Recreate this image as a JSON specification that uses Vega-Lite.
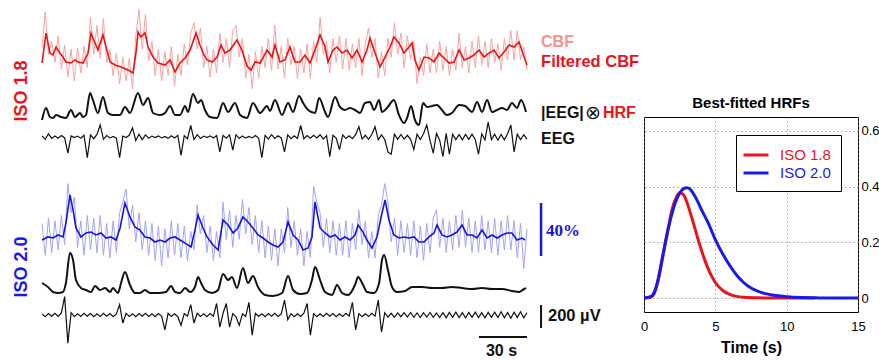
{
"$schema": "https://vega.github.io/schema/vega-lite/v6.json",
"padding": 0,
"autosize": {"type": "pad"},
"bounds": "flush",
"spacing": 24,
"config": {"font": "Liberation Sans", "view": {"stroke": null}},
"datasets": {
"fast": [
{"t":0,"cbf18":13,"eeg18":10,"cbf20":14,"eeg20":10},
{"t":2,"cbf18":40,"eeg18":-20,"cbf20":-10,"eeg20":-15},
{"t":4,"cbf18":8,"eeg18":28,"cbf20":18,"eeg20":12},
{"t":6,"cbf18":18,"eeg18":-12,"cbf20":-8,"eeg20":-10},
{"t":8,"cbf18":2,"eeg18":8,"cbf20":16,"eeg20":15},
{"t":10,"cbf18":22,"eeg18":-10,"cbf20":-6,"eeg20":-12},
{"t":12,"cbf18":-3,"eeg18":12,"cbf20":20,"eeg20":18},
{"t":14,"cbf18":15,"eeg18":-8,"cbf20":-2,"eeg20":160},
{"t":16,"cbf18":-9,"eeg18":-140,"cbf20":44,"eeg20":-245},
{"t":18,"cbf18":12,"eeg18":10,"cbf20":22,"eeg20":20},
{"t":20,"cbf18":-12,"eeg18":-5,"cbf20":34,"eeg20":-15},
{"t":22,"cbf18":13,"eeg18":8,"cbf20":-4,"eeg20":10},
{"t":24,"cbf18":-6,"eeg18":-10,"cbf20":16,"eeg20":-12},
{"t":26,"cbf18":14,"eeg18":15,"cbf20":-10,"eeg20":15},
{"t":28,"cbf18":-2,"eeg18":-180,"cbf20":20,"eeg20":-10},
{"t":30,"cbf18":36,"eeg18":18,"cbf20":-6,"eeg20":12},
{"t":32,"cbf18":8,"eeg18":-15,"cbf20":18,"eeg20":-15},
{"t":34,"cbf18":30,"eeg18":22,"cbf20":-8,"eeg20":10},
{"t":36,"cbf18":5,"eeg18":105,"cbf20":20,"eeg20":-12},
{"t":38,"cbf18":35,"eeg18":-20,"cbf20":-10,"eeg20":15},
{"t":40,"cbf18":2,"eeg18":12,"cbf20":14,"eeg20":-10},
{"t":42,"cbf18":12,"eeg18":-8,"cbf20":-12,"eeg20":12},
{"t":44,"cbf18":-8,"eeg18":5,"cbf20":16,"eeg20":-15},
{"t":46,"cbf18":9,"eeg18":-10,"cbf20":-8,"eeg20":10},
{"t":48,"cbf18":-14,"eeg18":-180,"cbf20":22,"eeg20":90},
{"t":50,"cbf18":6,"eeg18":8,"cbf20":30,"eeg20":-70},
{"t":52,"cbf18":-12,"eeg18":-5,"cbf20":40,"eeg20":15},
{"t":54,"cbf18":5,"eeg18":15,"cbf20":10,"eeg20":-12},
{"t":56,"cbf18":-18,"eeg18":80,"cbf20":28,"eeg20":10},
{"t":58,"cbf18":22,"eeg18":-30,"cbf20":0,"eeg20":-15},
{"t":60,"cbf18":42,"eeg18":25,"cbf20":22,"eeg20":12},
{"t":62,"cbf18":12,"eeg18":-22,"cbf20":-6,"eeg20":-10},
{"t":64,"cbf18":38,"eeg18":18,"cbf20":16,"eeg20":15},
{"t":66,"cbf18":3,"eeg18":-10,"cbf20":-10,"eeg20":-12},
{"t":68,"cbf18":18,"eeg18":8,"cbf20":14,"eeg20":10},
{"t":70,"cbf18":-8,"eeg18":-5,"cbf20":-14,"eeg20":-15},
{"t":72,"cbf18":12,"eeg18":10,"cbf20":12,"eeg20":12},
{"t":74,"cbf18":-12,"eeg18":-8,"cbf20":-18,"eeg20":-10},
{"t":76,"cbf18":10,"eeg18":5,"cbf20":10,"eeg20":-130},
{"t":78,"cbf18":-8,"eeg18":-12,"cbf20":-12,"eeg20":15},
{"t":80,"cbf18":14,"eeg18":10,"cbf20":16,"eeg20":-12},
{"t":82,"cbf18":-16,"eeg18":-8,"cbf20":-10,"eeg20":10},
{"t":84,"cbf18":8,"eeg18":15,"cbf20":14,"eeg20":-15},
{"t":86,"cbf18":-8,"eeg18":-160,"cbf20":-12,"eeg20":-90},
{"t":88,"cbf18":16,"eeg18":12,"cbf20":12,"eeg20":12},
{"t":90,"cbf18":0,"eeg18":-15,"cbf20":-14,"eeg20":-10},
{"t":92,"cbf18":24,"eeg18":100,"cbf20":8,"eeg20":90},
{"t":94,"cbf18":32,"eeg18":-22,"cbf20":-6,"eeg20":-70},
{"t":96,"cbf18":12,"eeg18":20,"cbf20":28,"eeg20":15},
{"t":98,"cbf18":28,"eeg18":-12,"cbf20":6,"eeg20":-12},
{"t":100,"cbf18":-2,"eeg18":8,"cbf20":20,"eeg20":10},
{"t":102,"cbf18":14,"eeg18":-5,"cbf20":-8,"eeg20":-15},
{"t":104,"cbf18":-9,"eeg18":10,"cbf20":12,"eeg20":12},
{"t":106,"cbf18":12,"eeg18":-8,"cbf20":-14,"eeg20":-10},
{"t":108,"cbf18":-6,"eeg18":12,"cbf20":8,"eeg20":100},
{"t":110,"cbf18":24,"eeg18":-130,"cbf20":-12,"eeg20":-105},
{"t":112,"cbf18":2,"eeg18":15,"cbf20":30,"eeg20":15},
{"t":114,"cbf18":20,"eeg18":-10,"cbf20":2,"eeg20":100},
{"t":116,"cbf18":-2,"eeg18":18,"cbf20":24,"eeg20":-105},
{"t":118,"cbf18":26,"eeg18":-115,"cbf20":-4,"eeg20":12},
{"t":120,"cbf18":30,"eeg18":20,"cbf20":20,"eeg20":-15},
{"t":122,"cbf18":6,"eeg18":-12,"cbf20":2,"eeg20":-90},
{"t":124,"cbf18":20,"eeg18":8,"cbf20":32,"eeg20":10},
{"t":126,"cbf18":-10,"eeg18":-10,"cbf20":6,"eeg20":-12},
{"t":128,"cbf18":8,"eeg18":5,"cbf20":26,"eeg20":110},
{"t":130,"cbf18":-18,"eeg18":-8,"cbf20":-2,"eeg20":-175},
{"t":132,"cbf18":10,"eeg18":12,"cbf20":20,"eeg20":15},
{"t":134,"cbf18":-10,"eeg18":-10,"cbf20":-8,"eeg20":-12},
{"t":136,"cbf18":14,"eeg18":-180,"cbf20":16,"eeg20":10},
{"t":138,"cbf18":-2,"eeg18":15,"cbf20":-12,"eeg20":-15},
{"t":140,"cbf18":20,"eeg18":-18,"cbf20":12,"eeg20":12},
{"t":142,"cbf18":-4,"eeg18":20,"cbf20":-14,"eeg20":-10},
{"t":144,"cbf18":30,"eeg18":-12,"cbf20":10,"eeg20":15},
{"t":146,"cbf18":-3,"eeg18":10,"cbf20":-18,"eeg20":-12},
{"t":148,"cbf18":14,"eeg18":-8,"cbf20":10,"eeg20":10},
{"t":150,"cbf18":-10,"eeg18":-130,"cbf20":-8,"eeg20":130},
{"t":152,"cbf18":20,"eeg18":18,"cbf20":26,"eeg20":-40},
{"t":154,"cbf18":0,"eeg18":-15,"cbf20":-4,"eeg20":12},
{"t":156,"cbf18":14,"eeg18":10,"cbf20":16,"eeg20":-15},
{"t":158,"cbf18":-10,"eeg18":-12,"cbf20":-10,"eeg20":10},
{"t":160,"cbf18":12,"eeg18":100,"cbf20":10,"eeg20":-12},
{"t":162,"cbf18":-6,"eeg18":-15,"cbf20":-18,"eeg20":15},
{"t":164,"cbf18":16,"eeg18":12,"cbf20":8,"eeg20":100},
{"t":166,"cbf18":-10,"eeg18":-10,"cbf20":-12,"eeg20":-175},
{"t":168,"cbf18":18,"eeg18":15,"cbf20":42,"eeg20":12},
{"t":170,"cbf18":2,"eeg18":-8,"cbf20":30,"eeg20":-15},
{"t":172,"cbf18":36,"eeg18":20,"cbf20":22,"eeg20":10},
{"t":174,"cbf18":8,"eeg18":-18,"cbf20":-4,"eeg20":-12},
{"t":176,"cbf18":18,"eeg18":12,"cbf20":18,"eeg20":15},
{"t":178,"cbf18":-6,"eeg18":-170,"cbf20":-8,"eeg20":-10},
{"t":180,"cbf18":20,"eeg18":15,"cbf20":16,"eeg20":12},
{"t":182,"cbf18":2,"eeg18":-10,"cbf20":-10,"eeg20":-15},
{"t":184,"cbf18":22,"eeg18":-110,"cbf20":14,"eeg20":10},
{"t":186,"cbf18":-3,"eeg18":18,"cbf20":-10,"eeg20":-12},
{"t":188,"cbf18":20,"eeg18":-12,"cbf20":16,"eeg20":15},
{"t":190,"cbf18":-4,"eeg18":10,"cbf20":-12,"eeg20":-10},
{"t":192,"cbf18":16,"eeg18":-15,"cbf20":14,"eeg20":110},
{"t":194,"cbf18":-2,"eeg18":20,"cbf20":-6,"eeg20":-130},
{"t":196,"cbf18":20,"eeg18":90,"cbf20":24,"eeg20":12},
{"t":198,"cbf18":-8,"eeg18":-18,"cbf20":-2,"eeg20":-15},
{"t":200,"cbf18":16,"eeg18":15,"cbf20":16,"eeg20":10},
{"t":202,"cbf18":28,"eeg18":-20,"cbf20":-12,"eeg20":-12},
{"t":204,"cbf18":6,"eeg18":22,"cbf20":8,"eeg20":15},
{"t":206,"cbf18":20,"eeg18":90,"cbf20":-12,"eeg20":-10},
{"t":208,"cbf18":-10,"eeg18":-25,"cbf20":20,"eeg20":130},
{"t":210,"cbf18":10,"eeg18":18,"cbf20":28,"eeg20":-150},
{"t":212,"cbf18":-8,"eeg18":-22,"cbf20":44,"eeg20":20},
{"t":214,"cbf18":20,"eeg18":-130,"cbf20":30,"eeg20":-18},
{"t":216,"cbf18":6,"eeg18":-150,"cbf20":0,"eeg20":15},
{"t":218,"cbf18":32,"eeg18":25,"cbf20":18,"eeg20":-20},
{"t":220,"cbf18":8,"eeg18":-20,"cbf20":-10,"eeg20":18},
{"t":222,"cbf18":24,"eeg18":22,"cbf20":16,"eeg20":-15},
{"t":224,"cbf18":-2,"eeg18":-18,"cbf20":-8,"eeg20":20},
{"t":226,"cbf18":22,"eeg18":15,"cbf20":14,"eeg20":-18},
{"t":228,"cbf18":4,"eeg18":-20,"cbf20":-10,"eeg20":22},
{"t":230,"cbf18":18,"eeg18":-110,"cbf20":16,"eeg20":-20},
{"t":232,"cbf18":-14,"eeg18":25,"cbf20":-12,"eeg20":18},
{"t":234,"cbf18":6,"eeg18":-22,"cbf20":12,"eeg20":-22},
{"t":236,"cbf18":-8,"eeg18":28,"cbf20":-14,"eeg20":20},
{"t":238,"cbf18":16,"eeg18":105,"cbf20":14,"eeg20":-18},
{"t":240,"cbf18":-6,"eeg18":-30,"cbf20":-8,"eeg20":22},
{"t":242,"cbf18":12,"eeg18":-140,"cbf20":18,"eeg20":-20},
{"t":244,"cbf18":-6,"eeg18":30,"cbf20":24,"eeg20":18},
{"t":246,"cbf18":18,"eeg18":-28,"cbf20":-4,"eeg20":-22},
{"t":248,"cbf18":-4,"eeg18":-170,"cbf20":18,"eeg20":20},
{"t":250,"cbf18":14,"eeg18":32,"cbf20":-8,"eeg20":-25},
{"t":252,"cbf18":-8,"eeg18":-150,"cbf20":16,"eeg20":22},
{"t":254,"cbf18":12,"eeg18":25,"cbf20":-6,"eeg20":-20},
{"t":256,"cbf18":-4,"eeg18":-22,"cbf20":20,"eeg20":25},
{"t":258,"cbf18":24,"eeg18":20,"cbf20":-4,"eeg20":-22},
{"t":260,"cbf18":-2,"eeg18":-25,"cbf20":24,"eeg20":20},
{"t":262,"cbf18":14,"eeg18":22,"cbf20":-4,"eeg20":-25},
{"t":264,"cbf18":-6,"eeg18":-20,"cbf20":18,"eeg20":22},
{"t":266,"cbf18":18,"eeg18":25,"cbf20":-8,"eeg20":-20},
{"t":268,"cbf18":-2,"eeg18":-22,"cbf20":16,"eeg20":25},
{"t":270,"cbf18":22,"eeg18":-150,"cbf20":-8,"eeg20":-22},
{"t":272,"cbf18":0,"eeg18":28,"cbf20":20,"eeg20":20},
{"t":274,"cbf18":18,"eeg18":-25,"cbf20":-6,"eeg20":-25},
{"t":276,"cbf18":-2,"eeg18":130,"cbf20":16,"eeg20":22},
{"t":278,"cbf18":20,"eeg18":-22,"cbf20":-8,"eeg20":-20},
{"t":280,"cbf18":2,"eeg18":25,"cbf20":18,"eeg20":25},
{"t":282,"cbf18":16,"eeg18":-28,"cbf20":-10,"eeg20":-22},
{"t":284,"cbf18":-4,"eeg18":22,"cbf20":16,"eeg20":28},
{"t":286,"cbf18":20,"eeg18":-25,"cbf20":-6,"eeg20":-25},
{"t":288,"cbf18":4,"eeg18":28,"cbf20":20,"eeg20":22},
{"t":290,"cbf18":26,"eeg18":105,"cbf20":-6,"eeg20":-28},
{"t":292,"cbf18":4,"eeg18":-130,"cbf20":16,"eeg20":25},
{"t":294,"cbf18":26,"eeg18":25,"cbf20":-12,"eeg20":-22},
{"t":296,"cbf18":4,"eeg18":-22,"cbf20":14,"eeg20":28},
{"t":298,"cbf18":14,"eeg18":20,"cbf20":-20,"eeg20":-25},
{"t":300,"cbf18":-4,"eeg18":-18,"cbf20":10,"eeg20":20}
],
"f18": [
{"t":0,"v":1.5},{"t":2.5,"v":24},{"t":4.9,"v":9},{"t":6.8,"v":7.5},{"t":8.7,"v":13.6},{"t":11.1,"v":9},{"t":13,"v":6},{"t":14.8,"v":2.3},{"t":17.9,"v":1.5},{"t":20.4,"v":3.8},{"t":22.3,"v":2.3},{"t":25.4,"v":1.5},{"t":28.5,"v":9},{"t":30.3,"v":24},{"t":32.8,"v":16.6},{"t":34.6,"v":11.3},{"t":37.7,"v":22.7},{"t":39.6,"v":13.6},{"t":42.1,"v":2.3},{"t":45.2,"v":0},{"t":48.9,"v":-1.5},{"t":53.2,"v":-3.8},{"t":56.3,"v":-6},{"t":58.1,"v":9},{"t":59.4,"v":24.9},{"t":61.2,"v":21.1},{"t":63.7,"v":24.2},{"t":65.6,"v":13.6},{"t":68.7,"v":6},{"t":71.8,"v":1.5},{"t":76.1,"v":0},{"t":79.2,"v":3.8},{"t":82.3,"v":-5.3},{"t":85.4,"v":1.5},{"t":88.5,"v":5.3},{"t":91.6,"v":11.3},{"t":95.3,"v":24.2},{"t":97.7,"v":15.1},{"t":100.2,"v":7.5},{"t":102.1,"v":3.8},{"t":105.2,"v":2.3},{"t":108.3,"v":6},{"t":110.7,"v":15.1},{"t":113.2,"v":9},{"t":116.3,"v":11.3},{"t":120.6,"v":18.9},{"t":123.7,"v":11.3},{"t":126.8,"v":-0.8},{"t":129.3,"v":-3.8},{"t":131.8,"v":2.3},{"t":134.9,"v":1.5},{"t":139.2,"v":11.3},{"t":142.3,"v":6},{"t":144.1,"v":15.1},{"t":147.2,"v":2.3},{"t":150.3,"v":3.8},{"t":153.4,"v":13.6},{"t":156.5,"v":2.3},{"t":159.6,"v":2.3},{"t":162.7,"v":7.5},{"t":165.8,"v":1.5},{"t":168.9,"v":11.3},{"t":172,"v":22.7},{"t":175.1,"v":13.6},{"t":176.9,"v":2.3},{"t":180,"v":11.3},{"t":182.5,"v":13.6},{"t":185.6,"v":9},{"t":188.7,"v":11.3},{"t":191.8,"v":5.3},{"t":194.9,"v":11.3},{"t":198,"v":2.3},{"t":201,"v":11.3},{"t":202.9,"v":20.4},{"t":206,"v":9},{"t":209.1,"v":-1.5},{"t":212.2,"v":6},{"t":215.3,"v":13.6},{"t":217.7,"v":21.1},{"t":220.8,"v":16.6},{"t":223.9,"v":9},{"t":227,"v":13.6},{"t":228.9,"v":16.6},{"t":230.7,"v":3.8},{"t":233.2,"v":-3.8},{"t":236.3,"v":6},{"t":239.4,"v":5.3},{"t":242.5,"v":2.3},{"t":245.6,"v":9},{"t":248.7,"v":5.3},{"t":251.8,"v":1.5},{"t":254.9,"v":2.3},{"t":258,"v":11.3},{"t":261.1,"v":3.8},{"t":264.1,"v":5.3},{"t":267.2,"v":7.5},{"t":270.3,"v":11.3},{"t":273.4,"v":6},{"t":276.5,"v":9},{"t":279.6,"v":11.3},{"t":282.7,"v":5.3},{"t":285.8,"v":9.8},{"t":288.9,"v":15.1},{"t":292,"v":13.6},{"t":295.1,"v":17.4},{"t":298.2,"v":6},{"t":300,"v":0}
],
"h18": [
{"t":0,"v":2},{"t":2.5,"v":14},{"t":4.9,"v":5},{"t":6.8,"v":4},{"t":8.7,"v":7},{"t":11.8,"v":5},{"t":14.8,"v":4},{"t":17.9,"v":12},{"t":20.4,"v":5},{"t":23.5,"v":9},{"t":25.4,"v":5},{"t":27.2,"v":7},{"t":29.7,"v":29},{"t":31.5,"v":22},{"t":34.6,"v":9},{"t":37.7,"v":25},{"t":40.8,"v":9},{"t":43.9,"v":7},{"t":48.3,"v":7},{"t":51.3,"v":15},{"t":54.4,"v":9},{"t":59.4,"v":29},{"t":62.5,"v":17},{"t":65.6,"v":24},{"t":68.7,"v":9},{"t":73,"v":7},{"t":76.1,"v":9},{"t":79.2,"v":16},{"t":82.3,"v":7},{"t":85.4,"v":7},{"t":88.5,"v":16},{"t":90.3,"v":10},{"t":93.4,"v":28},{"t":96.5,"v":19},{"t":98.4,"v":22},{"t":100.8,"v":12},{"t":103.9,"v":5},{"t":108.3,"v":4},{"t":112,"v":19},{"t":115.1,"v":10},{"t":119.4,"v":19},{"t":122.5,"v":7},{"t":126.8,"v":4},{"t":130.5,"v":19},{"t":134.9,"v":9},{"t":139.2,"v":16},{"t":141,"v":11},{"t":144.1,"v":22},{"t":148.5,"v":7},{"t":152.2,"v":19},{"t":155.3,"v":10},{"t":159,"v":26},{"t":161.5,"v":19},{"t":164.6,"v":12},{"t":168.9,"v":9},{"t":171.4,"v":24},{"t":175.1,"v":10},{"t":176.9,"v":5},{"t":181.3,"v":25},{"t":184.3,"v":15},{"t":187.4,"v":12},{"t":190.5,"v":14},{"t":193.6,"v":12},{"t":196.7,"v":9},{"t":199.8,"v":19},{"t":202.9,"v":20},{"t":205.4,"v":12},{"t":208.5,"v":22},{"t":210.3,"v":10},{"t":213.4,"v":14},{"t":217.7,"v":22},{"t":220.8,"v":7},{"t":223.9,"v":-1},{"t":225.8,"v":4},{"t":228.3,"v":16},{"t":230.7,"v":2},{"t":233.2,"v":-3},{"t":235.7,"v":19},{"t":238.2,"v":15},{"t":241.3,"v":16},{"t":244.3,"v":17},{"t":247.4,"v":12},{"t":250.5,"v":7},{"t":253.6,"v":9},{"t":258,"v":17},{"t":261.7,"v":16},{"t":266,"v":10},{"t":269.1,"v":20},{"t":272.2,"v":10},{"t":275.3,"v":22},{"t":278.4,"v":10},{"t":281.5,"v":12},{"t":284.6,"v":14},{"t":287.6,"v":12},{"t":290.7,"v":19},{"t":293.8,"v":14},{"t":296.3,"v":22},{"t":299.4,"v":10}
],
"f20": [
{"t":0,"v":1.5},{"t":3.7,"v":3.8},{"t":6.8,"v":3},{"t":9.9,"v":5.3},{"t":13,"v":3.8},{"t":14.8,"v":14.3},{"t":17.3,"v":35.5},{"t":19.2,"v":24.2},{"t":21,"v":10.6},{"t":24.1,"v":3.8},{"t":27.2,"v":6.8},{"t":30.3,"v":7.5},{"t":33.4,"v":5.3},{"t":36.5,"v":6.8},{"t":39.6,"v":3},{"t":42.7,"v":3.8},{"t":45.8,"v":1.5},{"t":48.3,"v":10.6},{"t":51.3,"v":29.4},{"t":54.4,"v":18.9},{"t":57.5,"v":11.3},{"t":60.6,"v":9},{"t":63.7,"v":3.8},{"t":66.8,"v":3},{"t":69.9,"v":0},{"t":73,"v":1.5},{"t":76.1,"v":0},{"t":79.2,"v":3},{"t":82.3,"v":3.8},{"t":85.4,"v":1.5},{"t":88.5,"v":-0.8},{"t":92.2,"v":-3.8},{"t":94.6,"v":9},{"t":96.5,"v":20.4},{"t":99.6,"v":10.6},{"t":102.1,"v":3.8},{"t":105.8,"v":-2.3},{"t":108.9,"v":-6},{"t":112,"v":16.6},{"t":115.1,"v":12.8},{"t":118.2,"v":6.8},{"t":121.2,"v":10.6},{"t":124.3,"v":18.9},{"t":127.4,"v":15.1},{"t":130.5,"v":10.6},{"t":133.6,"v":5.3},{"t":136.7,"v":3},{"t":139.8,"v":0},{"t":142.9,"v":-2.3},{"t":146,"v":-3.8},{"t":149.1,"v":0},{"t":152.2,"v":15.1},{"t":155.3,"v":5.3},{"t":158.4,"v":1.5},{"t":161.5,"v":-6},{"t":164.6,"v":-4.5},{"t":167,"v":3.8},{"t":168.9,"v":30.2},{"t":172,"v":10.6},{"t":175.1,"v":6.8},{"t":178.2,"v":3.8},{"t":181.3,"v":5.3},{"t":184.3,"v":1.5},{"t":187.4,"v":3.8},{"t":190.5,"v":1.5},{"t":193.6,"v":5.3},{"t":195.5,"v":12.8},{"t":198.6,"v":7.5},{"t":201,"v":1.5},{"t":204.1,"v":-4.5},{"t":207.2,"v":3.8},{"t":210.3,"v":21.9},{"t":212.2,"v":31.7},{"t":214.6,"v":16.6},{"t":217.7,"v":5.3},{"t":220.8,"v":3},{"t":223.9,"v":3.8},{"t":227,"v":3},{"t":230.1,"v":3.8},{"t":233.2,"v":0},{"t":236.3,"v":0},{"t":239.4,"v":3.8},{"t":242.5,"v":6.8},{"t":244.3,"v":12.8},{"t":247.4,"v":5.3},{"t":250.5,"v":3.8},{"t":253.6,"v":5.3},{"t":256.7,"v":7.5},{"t":259.8,"v":12.8},{"t":262.9,"v":5.3},{"t":266,"v":5.3},{"t":269.1,"v":3},{"t":272.2,"v":9},{"t":275.3,"v":3},{"t":278.4,"v":5.3},{"t":281.5,"v":3},{"t":284.6,"v":5.3},{"t":287.6,"v":6.8},{"t":290.7,"v":6.8},{"t":293.8,"v":1.5},{"t":296.9,"v":3},{"t":298.8,"v":1.5}
],
"h20": [
{"t":0,"v":12},{"t":3.7,"v":8},{"t":6.8,"v":3},{"t":9.9,"v":2},{"t":13,"v":3},{"t":14.8,"v":12},{"t":17.3,"v":42},{"t":19.2,"v":35},{"t":21,"v":15},{"t":24.1,"v":7},{"t":27.2,"v":5},{"t":30.3,"v":3},{"t":32.8,"v":9},{"t":35.9,"v":5},{"t":39,"v":7},{"t":42.1,"v":3},{"t":43.9,"v":7},{"t":47,"v":2},{"t":48.9,"v":12},{"t":51.3,"v":23},{"t":54.4,"v":10},{"t":57.5,"v":2},{"t":60.6,"v":2},{"t":63.7,"v":5},{"t":66.8,"v":2},{"t":71.8,"v":2},{"t":76.7,"v":3},{"t":79.8,"v":9},{"t":82.3,"v":3},{"t":85.4,"v":2},{"t":88.5,"v":7},{"t":91.6,"v":3},{"t":94.6,"v":8},{"t":96.5,"v":18},{"t":98.4,"v":12},{"t":100.8,"v":5},{"t":105.2,"v":2},{"t":108.9,"v":5},{"t":112,"v":21},{"t":115.1,"v":15},{"t":117.5,"v":18},{"t":120.6,"v":7},{"t":124.3,"v":27},{"t":127.4,"v":12},{"t":130.5,"v":19},{"t":133.6,"v":8},{"t":138,"v":0},{"t":142.9,"v":-1},{"t":148.5,"v":2},{"t":152.2,"v":19},{"t":155.3,"v":5},{"t":159.6,"v":1},{"t":163.9,"v":2},{"t":167,"v":15},{"t":168.9,"v":28},{"t":172,"v":15},{"t":175.1,"v":3},{"t":179.4,"v":0},{"t":182.5,"v":10},{"t":185.6,"v":2},{"t":189.3,"v":0},{"t":193.6,"v":10},{"t":195.5,"v":18},{"t":198.6,"v":10},{"t":201,"v":3},{"t":205.4,"v":2},{"t":208.5,"v":12},{"t":210.3,"v":35},{"t":211.6,"v":40},{"t":214,"v":25},{"t":216.5,"v":8},{"t":219.6,"v":3},{"t":224.6,"v":4},{"t":228.9,"v":8},{"t":235.1,"v":8},{"t":241.3,"v":7},{"t":247.4,"v":7},{"t":253.6,"v":8},{"t":259.8,"v":7},{"t":266,"v":6},{"t":272.2,"v":7},{"t":278.4,"v":6},{"t":284.6,"v":6},{"t":290.7,"v":4},{"t":295.1,"v":3},{"t":298.2,"v":6},{"t":299.4,"v":7}
],
"hrf": [
{"t":0,"iso":"ISO 1.8","v":0},{"t":0.5,"iso":"ISO 1.8","v":0.004},{"t":0.75,"iso":"ISO 1.8","v":0.02},{"t":1,"iso":"ISO 1.8","v":0.065},{"t":1.25,"iso":"ISO 1.8","v":0.13},{"t":1.5,"iso":"ISO 1.8","v":0.2},{"t":1.75,"iso":"ISO 1.8","v":0.265},{"t":2,"iso":"ISO 1.8","v":0.325},{"t":2.25,"iso":"ISO 1.8","v":0.36},{"t":2.5,"iso":"ISO 1.8","v":0.378},{"t":2.75,"iso":"ISO 1.8","v":0.372},{"t":3,"iso":"ISO 1.8","v":0.345},{"t":3.25,"iso":"ISO 1.8","v":0.305},{"t":3.5,"iso":"ISO 1.8","v":0.263},{"t":3.75,"iso":"ISO 1.8","v":0.218},{"t":4,"iso":"ISO 1.8","v":0.176},{"t":4.25,"iso":"ISO 1.8","v":0.138},{"t":4.5,"iso":"ISO 1.8","v":0.105},{"t":4.75,"iso":"ISO 1.8","v":0.078},{"t":5,"iso":"ISO 1.8","v":0.056},{"t":5.5,"iso":"ISO 1.8","v":0.028},{"t":6,"iso":"ISO 1.8","v":0.013},{"t":6.5,"iso":"ISO 1.8","v":0.006},{"t":7,"iso":"ISO 1.8","v":0.003},{"t":8,"iso":"ISO 1.8","v":0.001},{"t":9,"iso":"ISO 1.8","v":0},{"t":10,"iso":"ISO 1.8","v":0},{"t":12,"iso":"ISO 1.8","v":0},
{"t":0,"iso":"ISO 2.0","v":0},{"t":0.5,"iso":"ISO 2.0","v":0.006},{"t":0.75,"iso":"ISO 2.0","v":0.025},{"t":1,"iso":"ISO 2.0","v":0.07},{"t":1.25,"iso":"ISO 2.0","v":0.135},{"t":1.5,"iso":"ISO 2.0","v":0.2},{"t":1.75,"iso":"ISO 2.0","v":0.26},{"t":2,"iso":"ISO 2.0","v":0.31},{"t":2.25,"iso":"ISO 2.0","v":0.35},{"t":2.5,"iso":"ISO 2.0","v":0.376},{"t":2.75,"iso":"ISO 2.0","v":0.392},{"t":3,"iso":"ISO 2.0","v":0.396},{"t":3.25,"iso":"ISO 2.0","v":0.39},{"t":3.5,"iso":"ISO 2.0","v":0.372},{"t":3.75,"iso":"ISO 2.0","v":0.348},{"t":4,"iso":"ISO 2.0","v":0.32},{"t":4.5,"iso":"ISO 2.0","v":0.27},{"t":5,"iso":"ISO 2.0","v":0.21},{"t":5.5,"iso":"ISO 2.0","v":0.16},{"t":6,"iso":"ISO 2.0","v":0.118},{"t":6.5,"iso":"ISO 2.0","v":0.082},{"t":7,"iso":"ISO 2.0","v":0.055},{"t":7.5,"iso":"ISO 2.0","v":0.036},{"t":8,"iso":"ISO 2.0","v":0.024},{"t":8.5,"iso":"ISO 2.0","v":0.016},{"t":9,"iso":"ISO 2.0","v":0.011},{"t":10,"iso":"ISO 2.0","v":0.005},{"t":11,"iso":"ISO 2.0","v":0.002},{"t":12,"iso":"ISO 2.0","v":0.001},{"t":13,"iso":"ISO 2.0","v":0},{"t":15,"iso":"ISO 2.0","v":0}
]
},
"hconcat": [
{
"width": 620,
"height": 361,
"resolve": {"scale": {"y": "independent"}},
"layer": [
{"data": {"name": "fast"}, "mark": {"type": "line", "color": "#f7a3a3", "strokeWidth": 1}, "encoding": {"x": {"field": "t", "type": "quantitative", "scale": {"domain": [-25.98, 357.53], "nice": false, "zero": false}, "axis": null}, "y": {"field": "cbf18", "type": "quantitative", "scale": {"domain": [-223.4, 49.06], "nice": false, "zero": false}, "axis": null}}},
{"data": {"name": "f18"}, "mark": {"type": "line", "color": "#ee1111", "strokeWidth": 1.6}, "encoding": {"x": {"field": "t", "type": "quantitative", "scale": {"domain": [-25.98, 357.53], "nice": false, "zero": false}, "axis": null}, "y": {"field": "v", "type": "quantitative", "scale": {"domain": [-223.4, 49.06], "nice": false, "zero": false}, "axis": null}}},
{"data": {"name": "h18"}, "mark": {"type": "line", "color": "#111111", "strokeWidth": 2, "interpolate": "monotone"}, "encoding": {"x": {"field": "t", "type": "quantitative", "scale": {"domain": [-25.98, 357.53], "nice": false, "zero": false}, "axis": null}, "y": {"field": "v", "type": "quantitative", "scale": {"domain": [-239, 122], "nice": false, "zero": false}, "axis": null}}},
{"data": {"name": "fast"}, "mark": {"type": "line", "color": "#111111", "strokeWidth": 1.2}, "encoding": {"x": {"field": "t", "type": "quantitative", "scale": {"domain": [-25.98, 357.53], "nice": false, "zero": false}, "axis": null}, "y": {"field": "eeg18", "type": "quantitative", "scale": {"domain": [-1948.8, 1191.9], "nice": false, "zero": false}, "axis": null}}},
{"data": {"name": "fast"}, "mark": {"type": "line", "color": "#a3a3f7", "strokeWidth": 1}, "encoding": {"x": {"field": "t", "type": "quantitative", "scale": {"domain": [-25.98, 357.53], "nice": false, "zero": false}, "axis": null}, "y": {"field": "cbf20", "type": "quantitative", "scale": {"domain": [-89.81, 182.64], "nice": false, "zero": false}, "axis": null}}},
{"data": {"name": "f20"}, "mark": {"type": "line", "color": "#1515e0", "strokeWidth": 1.6}, "encoding": {"x": {"field": "t", "type": "quantitative", "scale": {"domain": [-25.98, 357.53], "nice": false, "zero": false}, "axis": null}, "y": {"field": "v", "type": "quantitative", "scale": {"domain": [-89.81, 182.64], "nice": false, "zero": false}, "axis": null}}},
{"data": {"name": "h20"}, "mark": {"type": "line", "color": "#111111", "strokeWidth": 2, "interpolate": "monotone"}, "encoding": {"x": {"field": "t", "type": "quantitative", "scale": {"domain": [-25.98, 357.53], "nice": false, "zero": false}, "axis": null}, "y": {"field": "v", "type": "quantitative", "scale": {"domain": [-66, 295], "nice": false, "zero": false}, "axis": null}}},
{"data": {"name": "fast"}, "mark": {"type": "line", "color": "#111111", "strokeWidth": 1.2}, "encoding": {"x": {"field": "t", "type": "quantitative", "scale": {"domain": [-25.98, 357.53], "nice": false, "zero": false}, "axis": null}, "y": {"field": "eeg20", "type": "quantitative", "scale": {"domain": [-400.2, 2740.5], "nice": false, "zero": false}, "axis": null}}},
{"data": {"values": [{}]}, "mark": {"type": "rule", "color": "#1515e0", "strokeWidth": 2.5}, "encoding": {"x": {"datum": 308.7, "type": "quantitative", "scale": {"domain": [-25.98, 357.53], "nice": false, "zero": false}, "axis": null}, "y": {"datum": -10.6, "type": "quantitative", "scale": {"domain": [-89.81, 182.64], "nice": false, "zero": false}, "axis": null}, "y2": {"datum": 29.4}}},
{"data": {"values": [{}]}, "mark": {"type": "rule", "color": "#111111", "strokeWidth": 2}, "encoding": {"x": {"datum": 308.7, "type": "quantitative", "scale": {"domain": [-25.98, 357.53], "nice": false, "zero": false}, "axis": null}, "y": {"datum": -113, "type": "quantitative", "scale": {"domain": [-400.2, 2740.5], "nice": false, "zero": false}, "axis": null}, "y2": {"datum": 87}}},
{"data": {"values": [{}]}, "mark": {"type": "rule", "color": "#111111", "strokeWidth": 2}, "encoding": {"x": {"datum": 270.3, "type": "quantitative", "scale": {"domain": [-25.98, 357.53], "nice": false, "zero": false}, "axis": null}, "x2": {"datum": 300}, "y": {"datum": -191.4, "type": "quantitative", "scale": {"domain": [-400.2, 2740.5], "nice": false, "zero": false}, "axis": null}}},
{"data": {"values": [{}]}, "mark": {"type": "text", "text": "ISO 1.8", "angle": 270, "fontSize": 18, "fontWeight": "bold", "color": "#e8141c", "align": "center", "baseline": "middle"}, "encoding": {"x": {"datum": -12.4, "type": "quantitative", "scale": {"domain": [-25.98, 357.53], "nice": false, "zero": false}, "axis": null}, "y": {"datum": -19.6, "type": "quantitative", "scale": {"domain": [-223.4, 49.06], "nice": false, "zero": false}, "axis": null}}},
{"data": {"values": [{}]}, "mark": {"type": "text", "text": "ISO 2.0", "angle": 270, "fontSize": 18, "fontWeight": "bold", "color": "#1a1ae6", "align": "center", "baseline": "middle"}, "encoding": {"x": {"datum": -12.4, "type": "quantitative", "scale": {"domain": [-25.98, 357.53], "nice": false, "zero": false}, "axis": null}, "y": {"datum": -18.9, "type": "quantitative", "scale": {"domain": [-89.81, 182.64], "nice": false, "zero": false}, "axis": null}}},
{"data": {"values": [{}]}, "mark": {"type": "text", "text": "CBF", "fontSize": 16, "fontWeight": "bold", "color": "#f4928c", "align": "left", "baseline": "middle"}, "encoding": {"x": {"datum": 308.7, "type": "quantitative", "scale": {"domain": [-25.98, 357.53], "nice": false, "zero": false}, "axis": null}, "y": {"datum": 17.4, "type": "quantitative", "scale": {"domain": [-223.4, 49.06], "nice": false, "zero": false}, "axis": null}}},
{"data": {"values": [{}]}, "mark": {"type": "text", "text": "Filtered CBF", "fontSize": 16.5, "fontWeight": "bold", "color": "#e8141c", "align": "left", "baseline": "middle"}, "encoding": {"x": {"datum": 308.7, "type": "quantitative", "scale": {"domain": [-25.98, 357.53], "nice": false, "zero": false}, "axis": null}, "y": {"datum": 1.9, "type": "quantitative", "scale": {"domain": [-223.4, 49.06], "nice": false, "zero": false}, "axis": null}}},
{"data": {"values": [{}]}, "mark": {"type": "text", "text": "|EEG|", "fontSize": 16, "fontWeight": "bold", "color": "#111111", "align": "left", "baseline": "middle"}, "encoding": {"x": {"datum": 308.7, "type": "quantitative", "scale": {"domain": [-25.98, 357.53], "nice": false, "zero": false}, "axis": null}, "y": {"datum": 9, "type": "quantitative", "scale": {"domain": [-239, 122], "nice": false, "zero": false}, "axis": null}}},
{"data": {"values": [{}]}, "mark": {"type": "text", "text": "⊗", "font": "DejaVu Sans", "fontSize": 19, "color": "#111111", "align": "center", "baseline": "middle"}, "encoding": {"x": {"datum": 340.8, "type": "quantitative", "scale": {"domain": [-25.98, 357.53], "nice": false, "zero": false}, "axis": null}, "y": {"datum": 9, "type": "quantitative", "scale": {"domain": [-239, 122], "nice": false, "zero": false}, "axis": null}}},
{"data": {"values": [{}]}, "mark": {"type": "text", "text": "HRF", "fontSize": 16, "fontWeight": "bold", "color": "#e8141c", "align": "left", "baseline": "middle"}, "encoding": {"x": {"datum": 347.0, "type": "quantitative", "scale": {"domain": [-25.98, 357.53], "nice": false, "zero": false}, "axis": null}, "y": {"datum": 9, "type": "quantitative", "scale": {"domain": [-239, 122], "nice": false, "zero": false}, "axis": null}}},
{"data": {"values": [{}]}, "mark": {"type": "text", "text": "EEG", "fontSize": 16, "fontWeight": "bold", "color": "#111111", "align": "left", "baseline": "middle"}, "encoding": {"x": {"datum": 308.7, "type": "quantitative", "scale": {"domain": [-25.98, 357.53], "nice": false, "zero": false}, "axis": null}, "y": {"datum": -17, "type": "quantitative", "scale": {"domain": [-1948.8, 1191.9], "nice": false, "zero": false}, "axis": null}}},
{"data": {"values": [{}]}, "mark": {"type": "text", "text": "40%", "font": "Liberation Serif", "fontSize": 17, "fontWeight": "bold", "color": "#1515e0", "align": "left", "baseline": "middle"}, "encoding": {"x": {"datum": 311.8, "type": "quantitative", "scale": {"domain": [-25.98, 357.53], "nice": false, "zero": false}, "axis": null}, "y": {"datum": 8.3, "type": "quantitative", "scale": {"domain": [-89.81, 182.64], "nice": false, "zero": false}, "axis": null}}},
{"data": {"values": [{}]}, "mark": {"type": "text", "text": "200 µV", "fontSize": 16.5, "fontWeight": "bold", "color": "#111111", "align": "left", "baseline": "middle"}, "encoding": {"x": {"datum": 313, "type": "quantitative", "scale": {"domain": [-25.98, 357.53], "nice": false, "zero": false}, "axis": null}, "y": {"datum": -9, "type": "quantitative", "scale": {"domain": [-400.2, 2740.5], "nice": false, "zero": false}, "axis": null}}},
{"data": {"values": [{}]}, "mark": {"type": "text", "text": "30 s", "fontSize": 16, "fontWeight": "bold", "color": "#111111", "align": "center", "baseline": "middle"}, "encoding": {"x": {"datum": 284.2, "type": "quantitative", "scale": {"domain": [-25.98, 357.53], "nice": false, "zero": false}, "axis": null}, "y": {"datum": -313, "type": "quantitative", "scale": {"domain": [-400.2, 2740.5], "nice": false, "zero": false}, "axis": null}}}
]
},
{
"spacing": 10,
"vconcat": [
{"width": 214, "height": 85, "data": {"values": [{}]}, "mark": {"type": "point", "opacity": 0}},
{
"width": 214,
"height": 195,
"view": {"stroke": "#000000", "strokeWidth": 1},
"title": {"text": "Best-fitted HRFs", "fontSize": 15, "fontWeight": "bold", "offset": 6, "anchor": "middle", "color": "#000000"},
"encoding": {
"x": {"field": "t", "type": "quantitative", "scale": {"domain": [0, 15], "nice": false, "zero": false}, "axis": {"values": [0, 5, 10, 15], "grid": true, "gridDash": [1, 3], "gridColor": "#777777", "gridOpacity": 1, "domain": false, "ticks": false, "labelFontSize": 13, "labelPadding": 8, "labelColor": "#000000", "labelFlush": false, "title": "Time (s)", "titleFontSize": 16, "titleFontWeight": "bold", "titlePadding": 6, "titleColor": "#000000"}},
"y": {"field": "v", "type": "quantitative", "scale": {"domain": [-0.05, 0.65], "nice": false, "zero": false}, "axis": {"orient": "right", "values": [0, 0.2, 0.4, 0.6], "format": "~g", "grid": true, "gridDash": [1, 3], "gridColor": "#777777", "gridOpacity": 1, "domain": false, "ticks": false, "labelFontSize": 13, "labelPadding": 3, "labelColor": "#000000", "title": null}}
},
"layer": [
{"data": {"values": [{}]}, "mark": {"type": "rect", "color": "#3a3a3a", "opacity": 1}, "encoding": {"x": {"datum": 6.66, "type": "quantitative"}, "x2": {"datum": 13.9}, "y": {"datum": 0.379, "type": "quantitative"}, "y2": {"datum": 0.578}}},
{"data": {"name": "hrf"}, "mark": {"type": "line", "strokeWidth": 3, "interpolate": "monotone"}, "encoding": {"color": {"field": "iso", "type": "nominal", "scale": {"domain": ["ISO 1.8", "ISO 2.0"], "range": ["#e8141c", "#1a1ae6"]}, "legend": {"orient": "none", "legendX": 736, "legendY": 135, "title": null, "symbolType": "M-1.47,0H1.47", "symbolSize": 289, "symbolStrokeWidth": 3, "labelFontSize": 15, "labelOffset": 14, "strokeColor": "#000000", "fillColor": "#ffffff", "padding": 10, "rowPadding": 0, "labelLimit": 200, "encode": {"labels": {"update": {"fill": {"signal": "datum.label === 'ISO 1.8' ? '#e8141c' : '#1a1ae6'"}}}}}}}}
]
}
]
}
]
}
